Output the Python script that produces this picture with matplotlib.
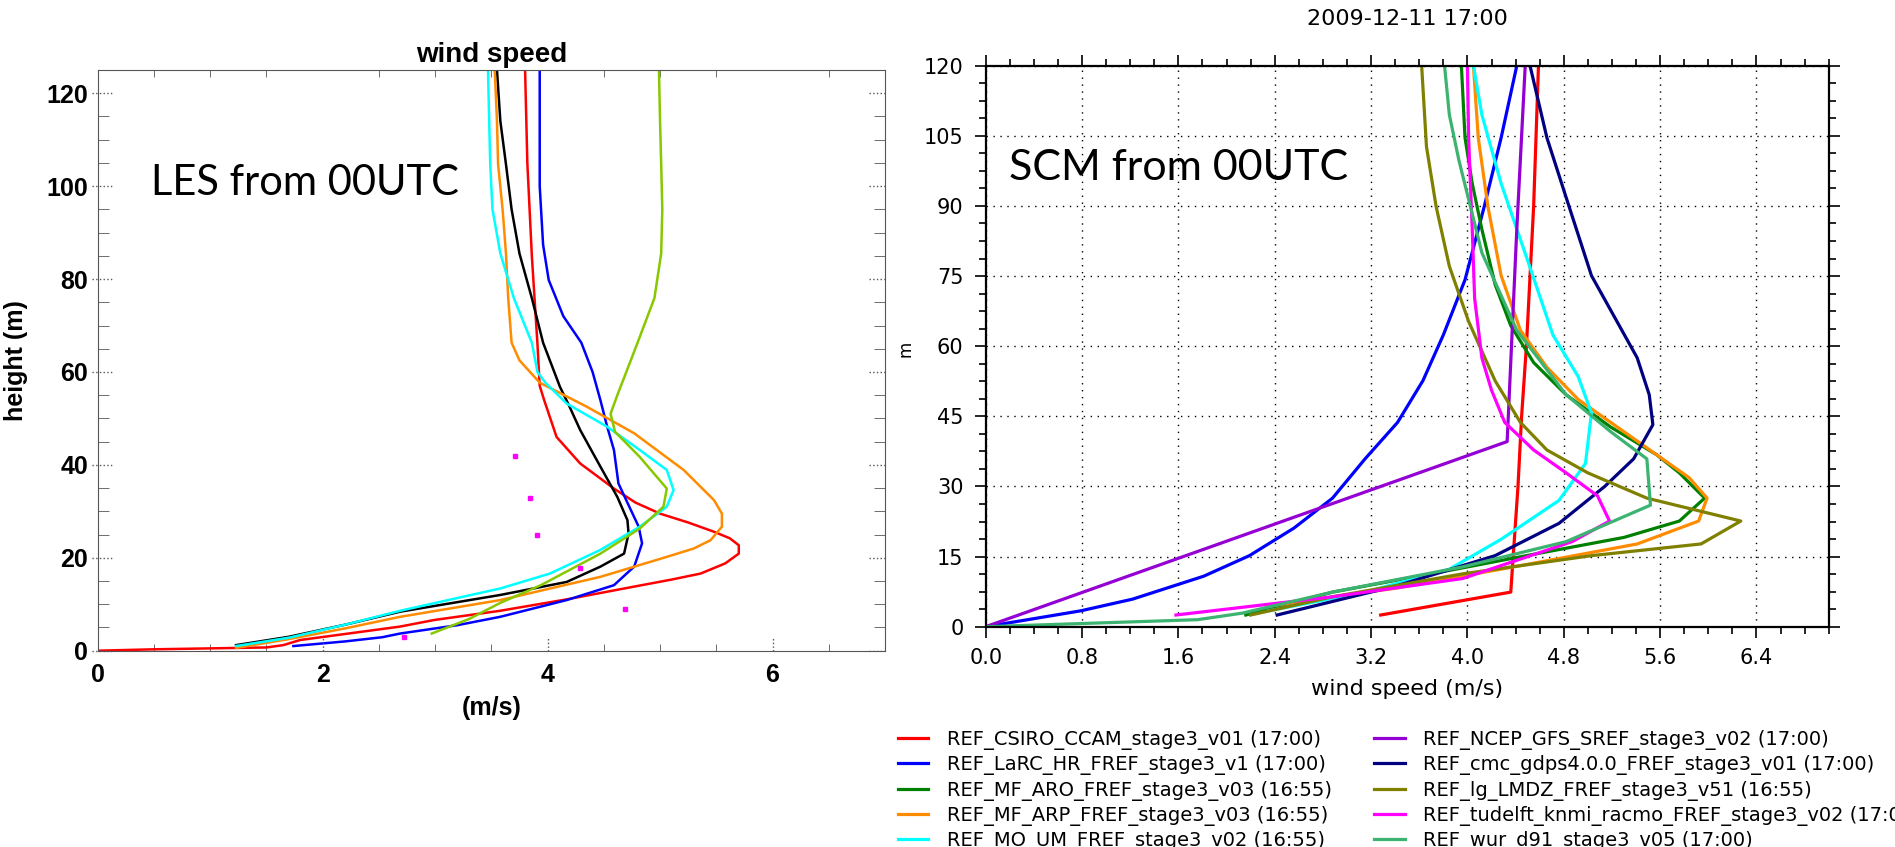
#!/usr/bin/env python3
"""Wind speed profiles: LES (left) and SCM runs (right), both from 00UTC."""
from __future__ import annotations

import matplotlib

matplotlib.use("Agg")
import matplotlib.pyplot as plt  # noqa: E402
from matplotlib.ticker import AutoMinorLocator, FormatStrFormatter, MultipleLocator  # noqa: E402
from matplotlib.transforms import blended_transform_factory  # noqa: E402

W, H = 1895, 847

# ---------------- left panel: LES profiles (speed m/s, height m) ----------------
les_red_u = [0.0, 0.5, 1.0, 1.5, 1.65, 1.8, 2.2, 2.69, 2.99, 3.58, 4.17, 4.77, 5.10, 5.36, 5.58,
             5.70, 5.70, 5.62, 5.48, 5.25, 5.0, 4.78, 4.59, 4.29, 4.08, 3.97, 3.93, 3.91, 3.86,
             3.82, 3.80]
les_red_z = [0.0, 0.3, 0.5, 0.7, 1.2, 2.3, 3.6, 5.2, 6.6, 8.6, 11.05, 13.8, 15.3, 16.6, 18.8,
             20.9, 22.7, 24.2, 25.6, 27.6, 29.5, 31.9, 34.9, 40.3, 46.0, 53.9, 57.0, 66.0, 85.0,
             105.0, 125.0]

les_blue_u = [1.74, 2.2, 2.53, 2.69, 3.2, 3.58, 4.17, 4.59, 4.77, 4.84, 4.81, 4.74, 4.63, 4.59,
              4.53, 4.47, 4.40, 4.30, 4.14, 4.01, 3.96, 3.93, 3.93]
les_blue_z = [1.0, 2.0, 2.9, 3.7, 5.5, 7.3, 10.9, 14.1, 18.1, 23.1, 26.7, 30.3, 36.0, 43.2,
              48.2, 53.9, 60.0, 66.3, 72.0, 79.8, 87.4, 100.0, 125.0]

les_black_u = [1.23, 1.7, 2.2, 2.69, 3.58, 4.17, 4.47, 4.68, 4.72, 4.71, 4.62, 4.47, 4.29, 4.19,
               4.11, 3.96, 3.86, 3.75, 3.68, 3.63, 3.58, 3.55]
les_black_z = [1.2, 3.0, 5.6, 8.4, 12.0, 14.8, 18.1, 20.9, 25.2, 28.1, 33.1, 39.6, 47.5, 52.8,
               56.8, 66.3, 75.9, 85.5, 95.0, 104.7, 114.0, 125.0]

les_orange_u = [1.23, 1.7, 2.2, 2.69, 3.58, 4.47, 5.06, 5.30, 5.45, 5.55, 5.55, 5.48, 5.21, 4.77,
                4.35, 3.93, 3.75, 3.68, 3.65, 3.63, 3.60, 3.56, 3.55, 3.53]
les_orange_z = [0.6, 2.5, 4.8, 7.3, 10.9, 15.9, 20.2, 22.0, 23.8, 26.7, 29.5, 32.4, 38.9, 46.8,
                52.5, 57.7, 62.5, 66.3, 75.9, 85.5, 95.0, 104.7, 114.0, 125.0]

les_cyan_u = [1.23, 1.7, 2.2, 2.69, 3.58, 4.02, 4.47, 4.82, 5.06, 5.12, 5.06, 4.82, 4.53, 4.17,
              3.98, 3.91, 3.86, 3.70, 3.58, 3.51, 3.49, 3.47]
les_cyan_z = [1.0, 2.8, 5.6, 8.6, 13.4, 16.6, 21.7, 26.7, 31.0, 34.6, 38.9, 43.2, 48.2, 53.2,
              57.7, 60.0, 66.3, 75.9, 85.5, 95.0, 104.7, 125.0]

les_ygreen_u = [2.97, 3.3, 3.58, 3.94, 4.47, 4.82, 5.03, 5.06, 4.82, 4.60, 4.56, 4.62, 4.70, 4.80,
                4.95, 5.01, 5.02, 5.01, 5.00, 4.99]
les_ygreen_z = [3.7, 6.8, 10.3, 14.1, 20.9, 26.3, 31.0, 34.9, 41.7, 47.1, 51.0, 55.0, 60.0, 66.3,
                75.9, 85.5, 95.0, 104.7, 114.0, 125.0]

obs_u = [2.72, 3.71, 3.84, 3.91, 4.29, 4.69]
obs_z = [2.9, 41.9, 32.9, 24.9, 17.9, 8.9]

# ---------------- right panel: SCM profiles ----------------
scm_names = [
    "REF_CSIRO_CCAM_stage3_v01 (17:00)",
    "REF_LaRC_HR_FREF_stage3_v1 (17:00)",
    "REF_MF_ARO_FREF_stage3_v03 (16:55)",
    "REF_MF_ARP_FREF_stage3_v03 (16:55)",
    "REF_MO_UM_FREF_stage3_v02 (16:55)",
    "REF_NCEP_GFS_SREF_stage3_v02 (17:00)",
    "REF_cmc_gdps4.0.0_FREF_stage3_v01 (17:00)",
    "REF_lg_LMDZ_FREF_stage3_v51 (16:55)",
    "REF_tudelft_knmi_racmo_FREF_stage3_v02 (17:00)",
    "REF_wur_d91_stage3_v05 (17:00)",
]
scm_colors = ["#ff0000", "#0000ff", "#008000", "#ff8c00", "#00ffff",
              "#9400d3", "#000080", "#808000", "#ff00ff", "#3cb371"]

csiro_u = [3.28, 4.36, 4.38, 4.42, 4.45, 4.49, 4.52, 4.55, 4.57, 4.59]
csiro_z = [2.5, 7.4, 15.0, 30.0, 45.0, 60.0, 75.0, 90.0, 105.0, 120.0]

larc_u = [0.0, 0.79, 1.22, 1.81, 2.19, 2.56, 2.88, 3.15, 3.42, 3.63, 3.80, 3.98, 4.14, 4.28, 4.41]
larc_z = [0.0, 3.4, 5.9, 10.8, 15.2, 21.1, 27.5, 35.9, 43.7, 52.6, 62.4, 74.2, 89.9, 104.6, 120.0]

aro_u = [2.16, 2.88, 3.80, 4.49, 5.30, 5.76, 5.97, 5.76, 5.57, 5.19, 4.82, 4.55, 4.36, 4.23,
         4.12, 4.04, 3.98, 3.95]
aro_z = [2.5, 7.4, 11.8, 15.2, 19.1, 22.6, 27.5, 32.9, 36.8, 42.7, 49.6, 56.5, 64.4, 73.2,
         85.0, 94.8, 104.6, 120.0]

arp_u = [2.35, 3.42, 4.49, 5.41, 5.92, 5.99, 5.84, 5.57, 5.30, 4.92, 4.66, 4.44, 4.28, 4.17,
         4.09, 4.05]
arp_z = [4.4, 8.3, 13.3, 17.7, 22.6, 27.5, 31.9, 36.8, 41.7, 48.6, 55.5, 63.4, 75.1, 89.9,
         104.6, 120.0]

um_u = [2.35, 3.15, 3.85, 4.28, 4.76, 4.98, 5.03, 4.92, 4.71, 4.49, 4.28, 4.12, 4.05]
um_z = [3.4, 7.4, 12.3, 18.7, 27.0, 34.9, 45.7, 53.5, 62.4, 79.1, 94.8, 109.5, 120.0]

ncep_u = [0.0, 4.33, 4.41, 4.48]
ncep_z = [0.0, 39.6, 85.0, 120.0]

cmc_u = [2.42, 3.42, 4.23, 4.76, 5.14, 5.38, 5.54, 5.51, 5.41, 5.03, 4.82, 4.66, 4.52]
cmc_z = [2.5, 8.8, 15.2, 22.1, 30.0, 35.9, 43.2, 49.6, 57.5, 75.1, 91.8, 104.6, 120.0]

lmdz_u = [2.20, 2.88, 3.96, 5.03, 5.94, 6.27, 5.49, 5.00, 4.66, 4.44, 4.23, 4.01, 3.85, 3.74,
          3.66, 3.62]
lmdz_z = [2.5, 6.4, 11.3, 15.2, 17.7, 22.6, 27.5, 32.9, 37.8, 43.7, 52.6, 65.3, 77.1, 89.9,
          102.7, 120.0]

racmo_u = [1.58, 2.88, 3.96, 4.87, 5.18, 5.08, 4.82, 4.55, 4.31, 4.20, 4.12, 4.06, 4.04, 4.01, 4.00]
racmo_z = [2.5, 6.4, 10.3, 18.2, 22.6, 28.0, 32.9, 37.8, 43.7, 50.6, 57.5, 70.2, 85.0, 104.6, 120.0]

wur_u = [0.0, 1.76, 2.13, 2.88, 3.96, 4.82, 5.52, 5.49, 5.19, 4.82, 4.41, 4.12, 3.93, 3.85, 3.81]
wur_z = [0.0, 1.5, 2.9, 7.4, 12.8, 18.2, 26.0, 35.9, 41.7, 49.6, 63.4, 80.0, 99.7, 109.5, 120.0]

scm_u = [csiro_u, larc_u, aro_u, arp_u, um_u, ncep_u, cmc_u, lmdz_u, racmo_u, wur_u]
scm_z = [csiro_z, larc_z, aro_z, arp_z, um_z, ncep_z, cmc_z, lmdz_z, racmo_z, wur_z]

LEFT_FONT = "Liberation Sans"


def fig_rect(x0: float, y0: float, x1: float, y1: float) -> list[float]:
    """Pixel box (top-left origin) -> figure-fraction rect."""
    return [x0 / W, 1 - y1 / H, (x1 - x0) / W, (y1 - y0) / H]


def draw_les(fig: plt.Figure) -> None:
    ax = fig.add_axes(fig_rect(97.7, 70.0, 885.0, 650.7))
    lw = 1.8
    style = dict(lw=lw, solid_joinstyle="round")
    ax.plot(les_red_u, les_red_z, color="#ff0000", **style)
    ax.plot(les_blue_u, les_blue_z, color="#0000ff", **style)
    ax.plot(les_black_u, les_black_z, color="black", **style)
    ax.plot(les_orange_u, les_orange_z, color="#ff8c00", **style)
    ax.plot(les_cyan_u, les_cyan_z, color="#00ffff", **style)
    ax.plot(les_ygreen_u, les_ygreen_z, color="#88c800", **style)
    ax.plot(obs_u, obs_z, ls="none", marker="s", ms=3.5, color="#ff00ff", mec="#ff00ff")

    ax.set_xlim(0, 7)
    ax.set_ylim(0, 125)
    ax.xaxis.set_major_locator(MultipleLocator(2))
    ax.xaxis.set_minor_locator(MultipleLocator(0.5))
    ax.yaxis.set_major_locator(MultipleLocator(20))
    ax.yaxis.set_minor_locator(MultipleLocator(5))
    ax.tick_params(which="both", direction="in", top=True, right=True, color="#555555")
    ax.tick_params(which="major", length=0)
    ax.tick_params(axis="x", which="minor", length=5)
    ax.tick_params(axis="y", which="minor", length=8)
    ax.tick_params(axis="x", which="major", pad=9)
    ax.tick_params(axis="y", which="major", pad=7)
    for spine in ax.spines.values():
        spine.set_color("#555555")
    for lab in ax.get_xticklabels() + ax.get_yticklabels():
        lab.set_fontfamily(LEFT_FONT)
        lab.set_fontweight("bold")
        lab.set_fontsize(18)

    # IDL style dotted stubs at the labelled ticks
    tx = blended_transform_factory(ax.transAxes, ax.transData)
    for yv in range(0, 121, 20):
        ax.plot([-0.007, 0.02], [yv, yv], transform=tx, ls=":", color="#555555", lw=1, clip_on=False)
        ax.plot([0.98, 1.0], [yv, yv], transform=tx, ls=":", color="#555555", lw=1)
    ty = blended_transform_factory(ax.transData, ax.transAxes)
    for xv in range(2, 7, 2):
        ax.plot([xv, xv], [0, 0.022], transform=ty, ls=":", color="#555555", lw=1)

    ax.set_title("wind speed", fontfamily=LEFT_FONT, fontweight="bold", fontsize=20, pad=6)
    ax.set_xlabel("(m/s)", fontfamily=LEFT_FONT, fontweight="bold", fontsize=18, labelpad=6)
    ax.set_ylabel("height (m)", fontfamily=LEFT_FONT, fontweight="bold", fontsize=18, labelpad=13)
    fig.text(151 / W, 1 - 183 / H, "LES from 00UTC", fontfamily="Lato", fontsize=30,
             ha="left", va="center")


def draw_scm(fig: plt.Figure) -> list:
    ax = fig.add_axes(fig_rect(985.7, 65.7, 1828.7, 626.7))
    handles = []
    for u, z, name, color in zip(scm_u, scm_z, scm_names, scm_colors):
        (line,) = ax.plot(u, z, color=color, lw=2.3, label=name)
        handles.append(line)

    ax.set_xlim(0, 7)
    ax.set_ylim(0, 120)
    ax.xaxis.set_major_locator(MultipleLocator(0.8))
    ax.xaxis.set_major_formatter(FormatStrFormatter("%.1f"))
    ax.yaxis.set_major_locator(MultipleLocator(15))
    ax.xaxis.set_minor_locator(AutoMinorLocator(4))
    ax.yaxis.set_minor_locator(AutoMinorLocator(4))
    ax.tick_params(which="both", direction="out", top=True, right=True, labelsize=15, width=1.2)
    ax.tick_params(which="major", length=8)
    ax.tick_params(which="minor", length=5)
    ax.tick_params(axis="x", pad=7)
    ax.tick_params(axis="y", pad=8)
    for spine in ax.spines.values():
        spine.set_linewidth(1.6)
    ax.grid(True, which="major", ls=(0, (1, 4)), color="black", lw=1)

    ax.set_title("2009-12-11 17:00", fontsize=16, pad=29)
    ax.set_xlabel("wind speed (m/s)", fontsize=16, labelpad=8)
    fig.text(905 / W, 1 - 349 / H, "m", rotation=90, fontsize=12, ha="center", va="center")
    fig.text(1009 / W, 1 - 168 / H, "SCM from 00UTC", fontfamily="Lato", fontsize=31,
             ha="left", va="center")
    return handles


def main() -> None:
    fig = plt.figure(figsize=(W / 100, H / 100), dpi=100)
    draw_les(fig)
    handles = draw_scm(fig)
    fig.legend(handles=handles, ncol=2, loc="upper left",
               bbox_to_anchor=(898 / W, 1 - 730 / H), frameon=False, fontsize=14,
               handlelength=1.55, handletextpad=0.95, columnspacing=2.2,
               labelspacing=0.27, borderpad=0, borderaxespad=0)
    fig.savefig("out.png", dpi=100)


if __name__ == "__main__":
    main()
